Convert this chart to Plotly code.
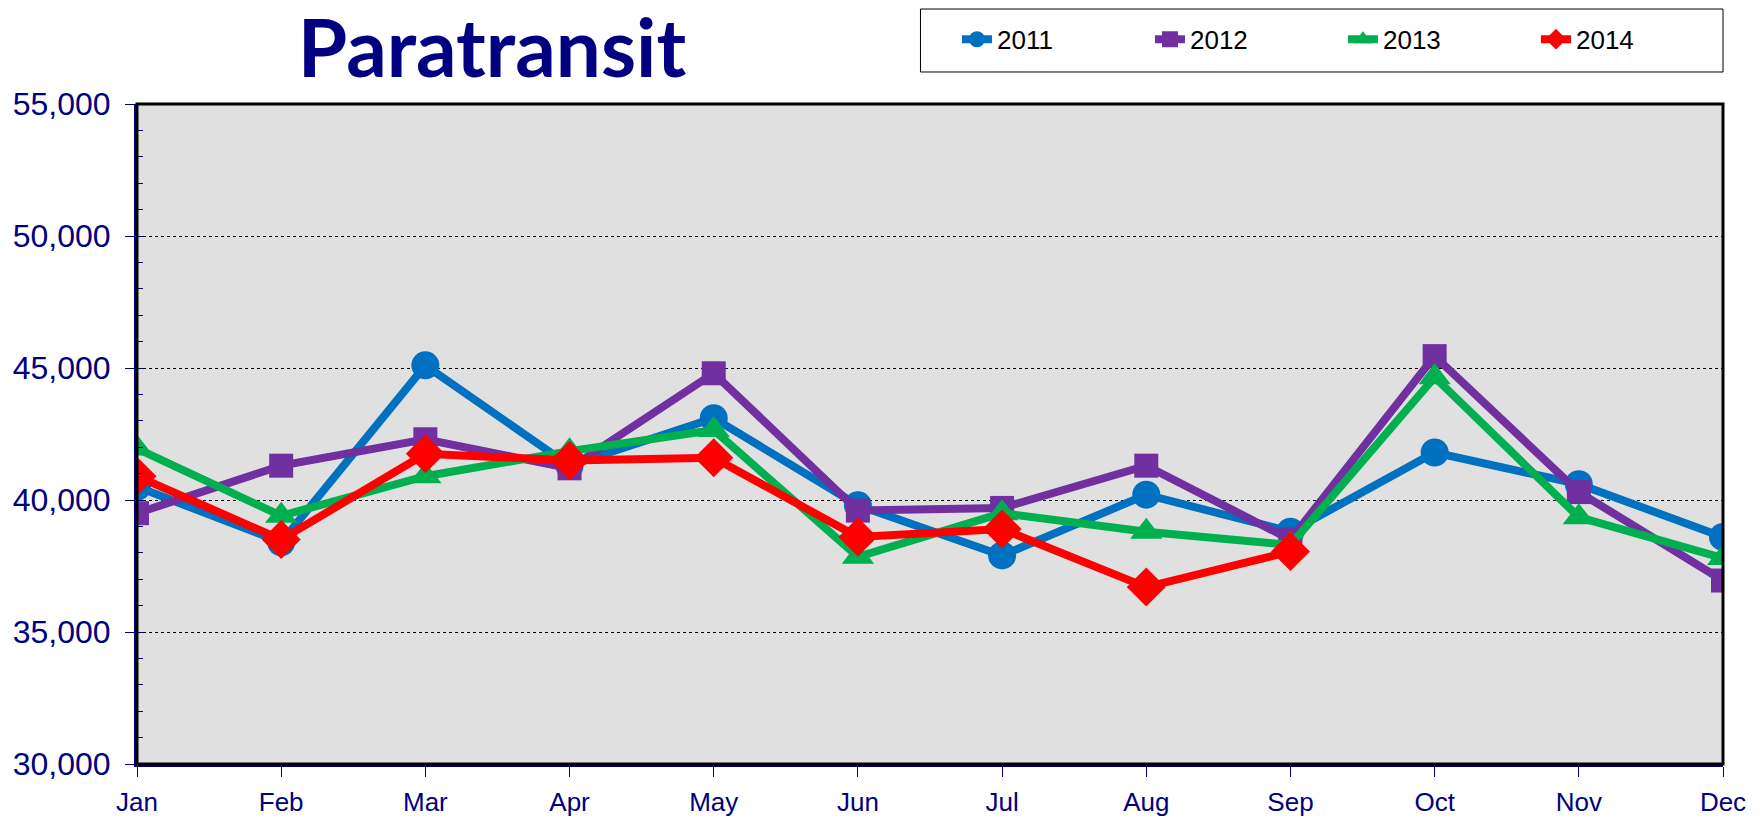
import plotly.graph_objects as go

months = ["Jan", "Feb", "Mar", "Apr", "May", "Jun", "Jul", "Aug", "Sep", "Oct", "Nov", "Dec"]
y2011 = [40500, 38400, 45100, 41300, 43100, 39800, 37900, 40200, 38800, 41800, 40600, 38600]
y2012 = [39500, 41300, 42300, 41200, 44800, 39600, 39700, 41300, 38500, 45450, 40300, 36950]
y2013 = [41950, 39400, 40900, 41850, 42650, 37850, 39500, 38800, 38300, 44650, 39350, 37800]
y2014 = [40900, 38500, 41750, 41500, 41600, 38600, 38900, 36700, 38050, None, None, None]

series = [
    ("2011", y2011, "#0070C0", "circle", 28),
    ("2012", y2012, "#7030A0", "square", 24),
    ("2013", y2013, "#00B050", "triangle-up", 28),
    ("2014", y2014, "#FF0000", "diamond", 30),
]

fig = go.Figure()
for name, vals, color, sym, size in series:
    fig.add_trace(go.Scatter(
        x=list(range(len(months))), y=vals, name=name, mode="lines+markers",
        line=dict(color=color, width=8),
        marker=dict(symbol=sym, size=size, color=color),
        connectgaps=False,
    ))

navy = "#000080"
sans = "Liberation Sans, Arial"
W, H = 1753, 812
fig.update_layout(
    width=W, height=H,
    margin=dict(l=129, r=38, t=96, b=56, autoexpand=False),
    paper_bgcolor="white",
    plot_bgcolor="#e0e0e0",
    showlegend=True,
    title=dict(text="<b>Paratransit</b>", x=484 / W, xref="container", xanchor="center",
               y=1 - 41 / H, yref="container", yanchor="middle",
               font=dict(family="Lato", size=80, color=navy, weight=900)),
    legend=dict(orientation="h", x=0.517, xanchor="left", y=1.098, yanchor="middle",
                font=dict(family=sans, size=26, color="black"),
                bgcolor="rgba(0,0,0,0)", entrywidth=148, entrywidthmode="pixels"),
    xaxis=dict(
        range=[0, 11], tickmode="array", tickvals=list(range(12)), ticktext=months,
        ticks="outside", ticklen=10, tickcolor=navy, showgrid=False, zeroline=False,
        showline=True, linecolor=navy, linewidth=3, ticklabelstandoff=3,
        tickfont=dict(family=sans, size=26, color=navy),
    ),
    yaxis=dict(
        range=[30000, 55000], dtick=5000, tickformat=",d",
        ticks="outside", ticklen=9, tickcolor=navy, ticklabelstandoff=8,
        showgrid=True, gridcolor="black", gridwidth=1, griddash="dot",
        zeroline=False, showline=True, linecolor=navy, linewidth=3,
        tickfont=dict(family=sans, size=32, color=navy),
        minor=dict(dtick=1000, ticks="inside", ticklen=6, tickcolor=navy, showgrid=False),
    ),
    shapes=[
        dict(type="rect", xref="paper", yref="paper", x0=0, x1=1, y0=0, y1=1,
             line=dict(color="black", width=3), layer="above"),
        dict(type="rect", xref="paper", yref="paper", x0=0.494, x1=1.0, y0=1.0485, y1=1.1439,
             line=dict(color="black", width=1), fillcolor="white", layer="below"),
    ],
)

fig.write_html("out.html")
